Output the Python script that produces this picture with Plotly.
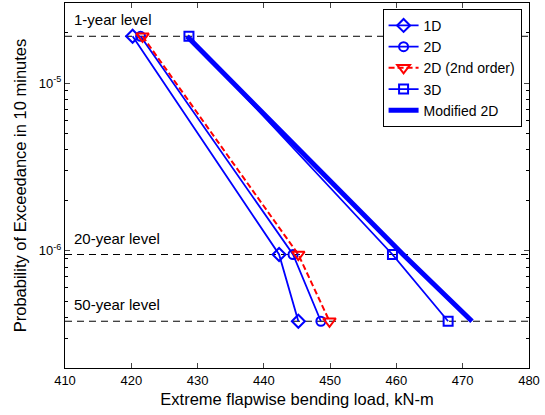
import math
import plotly.graph_objects as go

# Exceedance probability levels (1-, 20-, 50-year in 10 minutes)
prob_levels = [1.9e-5, 9.5e-7, 3.8e-7]
level_names = ["1-year level", "20-year level", "50-year level"]

# Extreme flapwise bending loads, kN-m
load_1d = [420.2, 442.3, 445.2]
load_2d = [421.4, 444.4, 448.6]
load_2d_2nd = [421.7, 445.2, 449.9]
load_3d = [428.7, 459.4, 467.8]
load_mod2d = [428.4, 461.0, 471.4]

x_range = [410, 480]
x_ticks = [410, 420, 430, 440, 450, 460, 470, 480]
y_range = [2e-7, 3e-5]
y_major = [1e-6, 1e-5]
y_major_text = ["10<sup>-6</sup>", "10<sup>-5</sup>"]
y_minor = [2e-7, 3e-7, 4e-7, 5e-7, 6e-7, 7e-7, 8e-7, 9e-7,
           2e-6, 3e-6, 4e-6, 5e-6, 6e-6, 7e-6, 8e-6, 9e-6,
           2e-5, 3e-5]

BLUE = "#0000ff"
RED = "#ff0000"
FONT = "Arial, Liberation Sans, Helvetica, sans-serif"

fig = go.Figure()

# level lines
for p in prob_levels:
    fig.add_trace(go.Scatter(x=x_range, y=[p, p], mode="lines",
                             line=dict(color="black", width=1, dash="7px,5px"),
                             showlegend=False, hoverinfo="skip"))

fig.add_trace(go.Scatter(x=load_1d, y=prob_levels, mode="lines+markers", name="1D",
                         line=dict(color=BLUE, width=1.8),
                         marker=dict(symbol="diamond-open", size=10, color=BLUE, line=dict(width=2))))
fig.add_trace(go.Scatter(x=load_2d, y=prob_levels, mode="lines+markers", name="2D",
                         line=dict(color=BLUE, width=1.8),
                         marker=dict(symbol="circle-open", size=9, color=BLUE, line=dict(width=2))))
fig.add_trace(go.Scatter(x=load_2d_2nd, y=prob_levels, mode="lines+markers", name="2D (2nd order)",
                         line=dict(color=RED, width=2, dash="6px,3px"),
                         marker=dict(symbol="triangle-down-open", size=11, color=RED, line=dict(width=2))))
fig.add_trace(go.Scatter(x=load_3d, y=prob_levels, mode="lines+markers", name="3D",
                         line=dict(color=BLUE, width=1.8),
                         marker=dict(symbol="square-open", size=9, color=BLUE, line=dict(width=2))))
fig.add_trace(go.Scatter(x=load_mod2d, y=prob_levels, mode="lines", name="Modified 2D",
                         line=dict(color=BLUE, width=5)))

for name, p in zip(level_names, prob_levels):
    fig.add_annotation(x=411, y=math.log10(p), text=name, showarrow=False,
                       xanchor="left", yanchor="bottom", yshift=6,
                       font=dict(family=FONT, size=15, color="black"))

fig.update_layout(
    width=545, height=415,
    margin=dict(l=65, r=16, t=3, b=47, autoexpand=False),
    paper_bgcolor="white", plot_bgcolor="white",
    font=dict(family=FONT, size=13, color="black"),
    showlegend=True,
    legend=dict(x=0.984, y=0.984, xanchor="right", yanchor="top",
                bgcolor="white", bordercolor="black", borderwidth=1,
                font=dict(family=FONT, size=14, color="black"),
                tracegroupgap=0, itemwidth=30),
    xaxis=dict(range=x_range, tickvals=x_ticks, ticks="inside", ticklen=5,
               showline=True, linecolor="black", linewidth=1, mirror="ticks",
               showgrid=False, zeroline=False, tickfont=dict(size=13), automargin=False,
               title=dict(text="Extreme flapwise bending load, kN-m",
                          font=dict(size=16.5), standoff=6)),
    yaxis=dict(type="log", range=[math.log10(y_range[0]), math.log10(y_range[1])],
               tickvals=y_major, ticktext=y_major_text, ticks="inside", ticklen=5,
               minor=dict(tickvals=y_minor, ticks="inside", ticklen=3, tickcolor="black"),
               showline=True, linecolor="black", linewidth=1, mirror="ticks",
               showgrid=False, zeroline=False, tickfont=dict(size=13), automargin=False,
               title=dict(text="Probability of Exceedance in 10 minutes",
                          font=dict(size=16.5), standoff=8)),
)

fig.write_html("out.html", config={"displayModeBar": False},
               post_script="document.body.style.margin='0';")
